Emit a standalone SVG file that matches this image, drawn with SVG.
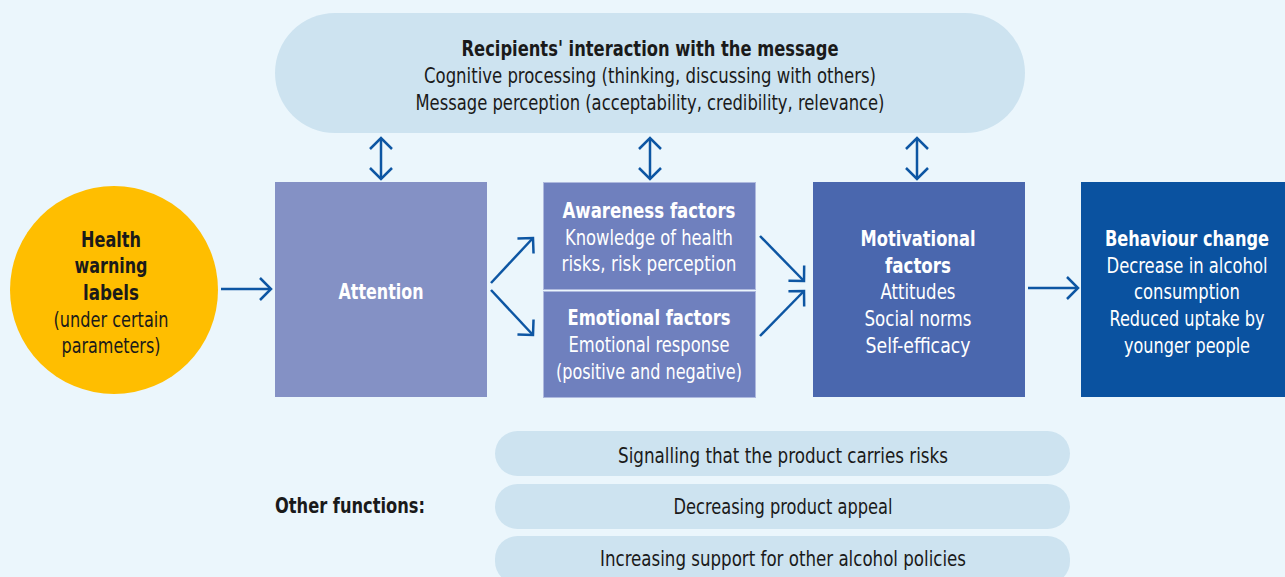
<svg xmlns="http://www.w3.org/2000/svg" width="1285" height="577" viewBox="0 0 1285 577">
<style>
text{font-family:"DejaVu Sans Condensed","DejaVu Sans","Liberation Sans",sans-serif;font-size:21px;text-anchor:middle}
.b{font-weight:bold;font-size:21.5px}
.w{fill:#ffffff}
.k{fill:#1a1a1a}
.pill{fill:#CDE3F0}
.ln{fill:none;stroke:#0D56A3;stroke-width:2.5}
</style>
<defs>
<marker id="ah" markerUnits="userSpaceOnUse" markerWidth="26" markerHeight="26" viewBox="0 0 26 26" refX="13" refY="13" orient="auto-start-reverse">
<path d="M2,2 L13,13 L2,24" fill="none" stroke="#0D56A3" stroke-width="2.5"/>
</marker>
</defs>
<rect width="1285" height="577" fill="#EBF6FC"/>

<g id="recipients">
<rect class="pill" x="275" y="13" width="750" height="120" rx="60"/>
<text class="b k" x="650" y="56" textLength="377" lengthAdjust="spacingAndGlyphs">Recipients' interaction with the message</text>
<text class="k" x="650" y="83" textLength="452" lengthAdjust="spacingAndGlyphs">Cognitive processing (thinking, discussing with others)</text>
<text class="k" x="650" y="110" textLength="469" lengthAdjust="spacingAndGlyphs">Message perception (acceptability, credibility, relevance)</text>
</g>

<g id="labels">
<circle cx="114" cy="290" r="104" fill="#FFBE00"/>
<text class="b k" x="111" y="247" textLength="60" lengthAdjust="spacingAndGlyphs">Health</text>
<text class="b k" x="111" y="273" textLength="73" lengthAdjust="spacingAndGlyphs">warning</text>
<text class="b k" x="111" y="300" textLength="56" lengthAdjust="spacingAndGlyphs">labels</text>
<text class="k" x="111" y="327" textLength="115" lengthAdjust="spacingAndGlyphs">(under certain</text>
<text class="k" x="111" y="353" textLength="99" lengthAdjust="spacingAndGlyphs">parameters)</text>
</g>

<g id="attention">
<rect x="275" y="182" width="212" height="215" fill="#8491C5"/>
<text class="b w" x="381" y="299" textLength="85" lengthAdjust="spacingAndGlyphs">Attention</text>
</g>

<g id="awareness">
<rect x="543.5" y="182.5" width="212" height="107" fill="#6F80BE" stroke="#AEB9DE" stroke-width="1"/>
<text class="b w" x="649" y="218" textLength="173" lengthAdjust="spacingAndGlyphs">Awareness factors</text>
<text class="w" x="649" y="245" textLength="168" lengthAdjust="spacingAndGlyphs">Knowledge of health</text>
<text class="w" x="649" y="271" textLength="175" lengthAdjust="spacingAndGlyphs">risks, risk perception</text>
</g>

<g id="emotional">
<rect x="543.5" y="291.5" width="212" height="106" fill="#6F80BE" stroke="#AEB9DE" stroke-width="1"/>
<text class="b w" x="649" y="325" textLength="163" lengthAdjust="spacingAndGlyphs">Emotional factors</text>
<text class="w" x="649" y="352" textLength="161" lengthAdjust="spacingAndGlyphs">Emotional response</text>
<text class="w" x="649" y="379" textLength="186" lengthAdjust="spacingAndGlyphs">(positive and negative)</text>
</g>

<g id="motivational">
<rect x="813" y="182" width="212" height="215" fill="#4A67AE"/>
<text class="b w" x="918" y="246" textLength="115" lengthAdjust="spacingAndGlyphs">Motivational</text>
<text class="b w" x="918" y="273" textLength="66" lengthAdjust="spacingAndGlyphs">factors</text>
<text class="w" x="918" y="299" textLength="75" lengthAdjust="spacingAndGlyphs">Attitudes</text>
<text class="w" x="918" y="326" textLength="107" lengthAdjust="spacingAndGlyphs">Social norms</text>
<text class="w" x="918" y="353" textLength="105" lengthAdjust="spacingAndGlyphs">Self-efficacy</text>
</g>

<g id="behaviour">
<rect x="1081" y="182" width="204" height="215" fill="#0A52A0"/>
<text class="b w" x="1187" y="246" textLength="164" lengthAdjust="spacingAndGlyphs">Behaviour change</text>
<text class="w" x="1187" y="273" textLength="161" lengthAdjust="spacingAndGlyphs">Decrease in alcohol</text>
<text class="w" x="1187" y="299" textLength="106" lengthAdjust="spacingAndGlyphs">consumption</text>
<text class="w" x="1187" y="326" textLength="155" lengthAdjust="spacingAndGlyphs">Reduced uptake by</text>
<text class="w" x="1187" y="353" textLength="126" lengthAdjust="spacingAndGlyphs">younger people</text>
</g>

<g id="other-functions">
<text class="b k" x="350" y="513" textLength="150" lengthAdjust="spacingAndGlyphs">Other functions:</text>
</g>
<g id="signalling">
<rect class="pill" x="495" y="431" width="575" height="45" rx="22.5"/>
<text class="k" x="783" y="463" textLength="330" lengthAdjust="spacingAndGlyphs">Signalling that the product carries risks</text>
</g>
<g id="appeal">
<rect class="pill" x="495" y="484" width="575" height="45" rx="22.5"/>
<text class="k" x="783" y="514" textLength="219" lengthAdjust="spacingAndGlyphs">Decreasing product appeal</text>
</g>
<g id="support">
<rect class="pill" x="495" y="536" width="575" height="48" rx="22.5"/>
<text class="k" x="783" y="566" textLength="366" lengthAdjust="spacingAndGlyphs">Increasing support for other alcohol policies</text>
</g>

<g id="connectors">
<line class="ln" x1="381" y1="138" x2="381" y2="179" marker-start="url(#ah)" marker-end="url(#ah)"/>
<line class="ln" x1="650" y1="138" x2="650" y2="179" marker-start="url(#ah)" marker-end="url(#ah)"/>
<line class="ln" x1="917" y1="138" x2="917" y2="179" marker-start="url(#ah)" marker-end="url(#ah)"/>
<line class="ln" x1="221" y1="289" x2="271" y2="289" marker-end="url(#ah)"/>
<line class="ln" x1="491" y1="283" x2="533" y2="238" marker-end="url(#ah)"/>
<line class="ln" x1="491" y1="290" x2="533" y2="335" marker-end="url(#ah)"/>
<line class="ln" x1="760" y1="236" x2="804" y2="281" marker-end="url(#ah)"/>
<line class="ln" x1="760" y1="336" x2="804" y2="291" marker-end="url(#ah)"/>
<line class="ln" x1="1028" y1="288" x2="1078" y2="288" marker-end="url(#ah)"/>
</g>
</svg>
